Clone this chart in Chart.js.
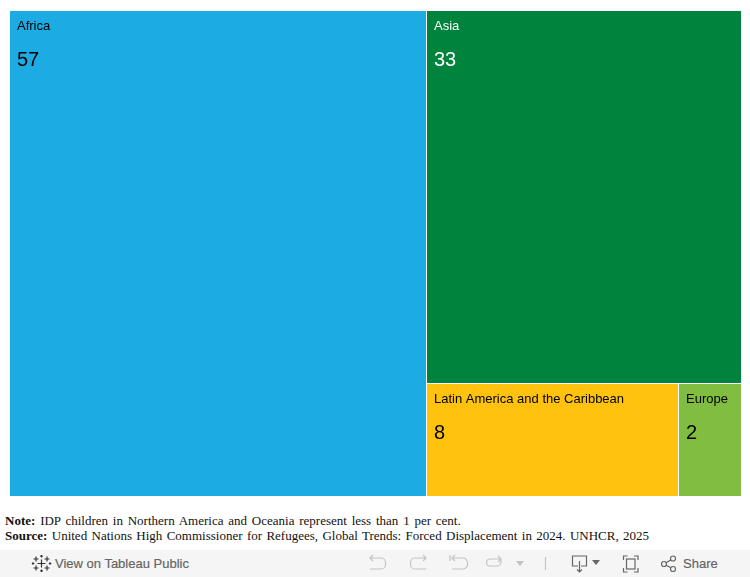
<!DOCTYPE html>
<html>
<head>
<meta charset="utf-8">
<title>IDP children by region</title>
<script src="https://cdn.jsdelivr.net/npm/chart.js@4"></script>
<style>
  html, body { margin: 0; padding: 0; background: #fff; }
  body { width: 750px; height: 577px; position: relative; overflow: hidden; }
  #wrap { position: absolute; left: 10px; top: 11px; width: 731px; height: 485px; }
  #note { position: absolute; left: 5px; top: 513px; white-space: nowrap; font: 13px/15px "Liberation Serif", serif; color: #111; }
  #bar { position: absolute; left: 0; top: 550px; width: 750px; height: 27px; background: #f5f5f5; font: 13px "Liberation Sans", sans-serif; color: #666; }
  #bar span { position: absolute; top: 6px; line-height: 16px; -webkit-text-stroke: 0.2px #666; }
  #bar svg { position: absolute; left: 0; top: 0; }
</style>
</head>
<body>
<div id="wrap"><canvas id="chart" width="731" height="485"></canvas></div>
<div id="note">
  <div style="word-spacing:1.55px"><b>Note:</b> IDP children in Northern America and Oceania represent less than 1 per cent.</div>
  <div style="word-spacing:1.12px"><b>Source:</b> United Nations High Commissioner for Refugees, Global Trends: Forced Displacement in 2024. UNHCR, 2025</div>
</div>
<div id="bar">
  <svg width="750" height="27" fill="none" stroke-width="1.2">
    <!-- tableau logo -->
    <g stroke="#333">
      <path d="M41.500 9.500v8M37.500 13.500h8M36 6.500v5M33.500 9h5M47 6.500v5M44.500 9h5M36 15.500v5M33.500 18h5M47 15.500v5M44.500 18h5"/>
      <path d="M41.500 5v2.500M40.200 6.200h2.600M41.500 19.500v2.500M40.200 20.800h2.600M33 12.200v2.600M31.800 13.500h2.600M50 12.200v2.600M48.800 13.500h2.600"/>
    </g>
    <!-- undo, redo, revert, refresh -->
    <g stroke="#c4c4c4">
      <path d="M370 8h11a4.500 4.500 0 0 1 4.500 4.500v2a4.500 4.500 0 0 1-4.500 4.500h-11M373 5l-3 3 3 3"/>
      <path d="M426 8h-11a4.500 4.500 0 0 0-4.500 4.500v2a4.500 4.500 0 0 0 4.500 4.500h11M423 5l3 3-3 3"/>
      <path d="M450 5v6M452 8h11a4.500 4.500 0 0 1 4.500 4.500v2a4.500 4.500 0 0 1-4.500 4.500h-11M455 5l-3 3 3 3"/>
      <path d="M501 9h-11a3.500 3.500 0 0 0-3.500 3.500a3.500 3.500 0 0 0 3.500 3.500h7a4 4 0 0 0 4-4v-3M498 6l3 3-3 3"/>
    </g>
    <path d="M516 11h8l-4 5z" fill="#c4c4c4"/>
    <path d="M545.500 7v13" stroke="#c4c4c4"/>
    <!-- download -->
    <g stroke="#666">
      <path d="M578 16h-5.500v-10h14v10h-5.500M579.500 11v11M577 19.500l2.500 2.500 2.500-2.500"/>
      <path d="M592 10h8l-4 5z" fill="#666" stroke="none"/>
      <!-- fullscreen -->
      <path d="M623.500 10v-4h4M634 6h4v4M638 18v4h-4M627.500 22h-4v-4"/>
      <rect x="626.500" y="9" width="8.500" height="10"/>
      <!-- share -->
      <circle cx="664" cy="14" r="2.500"/><circle cx="673" cy="8.500" r="2.500"/><circle cx="673" cy="19" r="2.500"/>
      <path d="M666 12.700l5-3M666 15.300l5 2.500"/>
    </g>
  </svg>
  <span style="left:55px">View on Tableau Public</span>
  <span style="left:683px">Share</span>
</div>
<script>
const categories = ["Africa", "Asia", "Latin America and the Caribbean", "Europe"];
const values = [57, 33, 8, 2];
const colours = ["#1cabe2", "#00833d", "#ffc20e", "#80bd41"];
const textColours = ["#000", "#fff", "#000", "#000"];

const plotW = 731, plotH = 485;

// snap to whole pixels, leave 1px white between the cells
const snapX = v => Math.ceil(v * plotW / 100) * 100 / plotW;
const snapY = v => Math.ceil(v * plotH / 100) * 100 / plotH;
const gapX = 100 / plotW, gapY = 100 / plotH;

// treemap layout in percent: first cell left, second on top of the rest, last two side by side
function layout() {
  const total = values.reduce((a, b) => a + b, 0);
  const rest = total - values[0];
  const xSplit = snapX(values[0] / total * 100);
  const ySplit = snapY(values[1] / rest * 100);
  const xSplit2 = snapX(xSplit + (100 - xSplit) * values[2] / (values[2] + values[3]));
  return [
    { x0: 0, x1: xSplit - gapX, y0: 0, y1: 100 },
    { x0: xSplit, x1: 100, y0: 0, y1: ySplit - gapY },
    { x0: xSplit, x1: xSplit2 - gapX, y0: ySplit, y1: 100 },
    { x0: xSplit2, x1: 100, y0: ySplit, y1: 100 }
  ];
}
const cells = layout();

const cellLabels = {
  id: "cellLabels",
  afterDatasetsDraw(chart) {
    const { ctx, scales: { x, y } } = chart;
    ctx.save();
    ctx.textBaseline = "alphabetic";
    cells.forEach((c, i) => {
      const left = x.getPixelForValue(c.x0) + 7;
      const top = y.getPixelForValue(c.y0);
      ctx.fillStyle = textColours[i];
      ctx.font = '13px "Liberation Sans", Arial, sans-serif';
      ctx.fillText(categories[i], left, top + 19);
      ctx.font = '20px "Liberation Sans", Arial, sans-serif';
      ctx.fillText(String(values[i]), left, top + 55);
    });
    ctx.restore();
  }
};

new Chart(document.getElementById("chart"), {
  type: "scatter",
  data: {
    datasets: categories.map((name, i) => ({
      label: name,
      data: [{ x: cells[i].x0, y: cells[i].y0 }, { x: cells[i].x1, y: cells[i].y0 }],
      showLine: true,
      fill: { value: cells[i].y1 },
      backgroundColor: colours[i],
      borderWidth: 0,
      pointRadius: 0
    }))
  },
  options: {
    responsive: false,
    animation: false,
    layout: { padding: 0 },
    plugins: { legend: { display: false }, tooltip: { enabled: false } },
    scales: {
      x: { type: "linear", min: 0, max: 100, display: false },
      y: { type: "linear", min: 0, max: 100, reverse: true, display: false }
    }
  },
  plugins: [cellLabels]
});
</script>
</body>
</html>
